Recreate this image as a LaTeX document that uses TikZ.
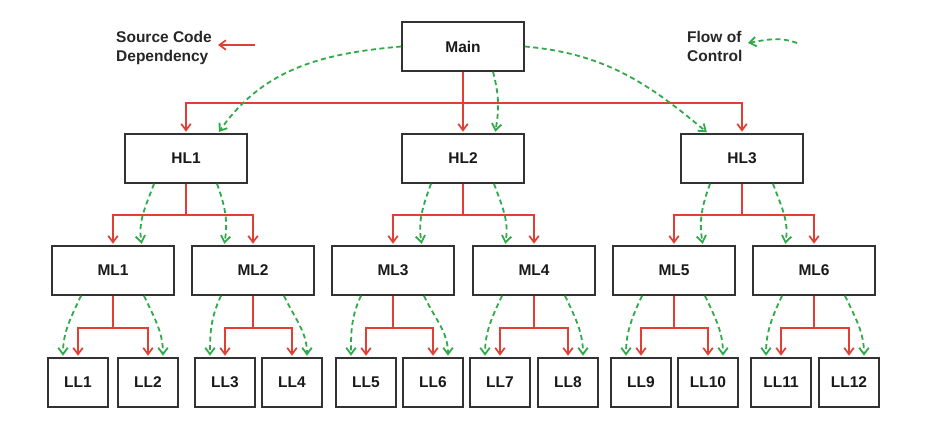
\documentclass[tikz,border=0pt]{standalone}
\usepackage{fontspec}
\setmainfont{Liberation Sans}
\usetikzlibrary{arrows.meta,shadows}
\definecolor{deporange}{RGB}{228,62,52}
\definecolor{flowgreen}{RGB}{48,170,72}
\definecolor{boxedge}{RGB}{50,50,50}

\begin{document}
\begin{tikzpicture}[x=1pt,y=1pt,
  box/.style={draw=boxedge, line width=1.5pt, fill=white, minimum height=49pt,
    inner sep=0pt, font=\fontsize{15.5}{18.5}\selectfont\bfseries, text=black!90,
    general shadow={fill=boxedge, shadow xshift=0.5pt, shadow yshift=-1.2pt}},
  topbox/.style={box, minimum width=122pt},
  midbox/.style={box, minimum width=122pt},
  leafbox/.style={box, minimum width=60pt},
  tip/.style={-{Straight Barb[length=6.5pt,width=9.5pt]}, shorten >=1.5pt},
  dep/.style={draw=deporange, line width=1.7pt, tip},
  flow/.style={draw=flowgreen, line width=1.8pt, dash pattern=on 5pt off 3.5pt, tip},
  legend/.style={align=left, inner sep=0pt, anchor=north west,
    font=\fontsize{15.5}{18.5}\selectfont\bfseries, text=black!85}
]
\useasboundingbox[fill=white] (0,0) rectangle (939,-421);

% modules, top to bottom
\node[topbox] (main) at (463,-46.5) {Main};

\node[topbox] (hl1) at (186,-158.5) {HL1};
\node[topbox] (hl2) at (463,-158.5) {HL2};
\node[topbox] (hl3) at (742,-158.5) {HL3};

\node[midbox] (ml1) at (113,-270.5) {ML1};
\node[midbox] (ml2) at (253,-270.5) {ML2};
\node[midbox] (ml3) at (393,-270.5) {ML3};
\node[midbox] (ml4) at (534,-270.5) {ML4};
\node[midbox] (ml5) at (674,-270.5) {ML5};
\node[midbox] (ml6) at (814,-270.5) {ML6};

\node[leafbox] (ll1)  at (78,-382.5)  {LL1};
\node[leafbox] (ll2)  at (148,-382.5) {LL2};
\node[leafbox] (ll3)  at (225,-382.5) {LL3};
\node[leafbox] (ll4)  at (292,-382.5) {LL4};
\node[leafbox] (ll5)  at (366,-382.5) {LL5};
\node[leafbox] (ll6)  at (433,-382.5) {LL6};
\node[leafbox] (ll7)  at (500,-382.5) {LL7};
\node[leafbox] (ll8)  at (568,-382.5) {LL8};
\node[leafbox] (ll9)  at (641,-382.5) {LL9};
\node[leafbox] (ll10) at (708,-382.5) {LL10};
\node[leafbox] (ll11) at (781,-382.5) {LL11};
\node[leafbox] (ll12) at (849,-382.5) {LL12};

% Main -> high level
\foreach \c in {hl1,hl2,hl3}
  \draw[dep] (main.south) -- ++(0,-31) -| (\c.north);
\draw[flow] (main.west) to[out=185,in=55] ([xshift=32pt]hl1.north);
\draw[flow] ([xshift=30pt]main.south) to[out=-75,in=80] ([xshift=32pt]hl2.north);
\draw[flow] (main.east) to[out=-5,in=140] ([xshift=-34pt]hl3.north);

% high level -> mid level
\foreach \p/\a/\b in {hl1/ml1/ml2, hl2/ml3/ml4, hl3/ml5/ml6} {
  \draw[dep] (\p.south) -- ++(0,-31) -| (\a.north);
  \draw[dep] (\p.south) -- ++(0,-31) -| (\b.north);
  \draw[flow] ([xshift=-32pt]\p.south) to[out=-110,in=100] ([xshift=29pt]\a.north);
  \draw[flow] ([xshift=31pt]\p.south) to[out=-70,in=80] ([xshift=-29pt]\b.north);
}

% mid level -> low level
\foreach \p/\a/\b in {ml1/ll1/ll2, ml2/ll3/ll4, ml3/ll5/ll6,
                      ml4/ll7/ll8, ml5/ll9/ll10, ml6/ll11/ll12} {
  \draw[dep] (\p.south) -- ++(0,-32) -| (\a.north);
  \draw[dep] (\p.south) -- ++(0,-32) -| (\b.north);
  \draw[flow] ([xshift=-32pt]\p.south) to[out=-115,in=90] ([xshift=-15pt]\a.north);
  \draw[flow] ([xshift=31pt]\p.south) to[out=-65,in=90] ([xshift=15pt]\b.north);
}

% legend
\node[legend] (srclbl) at (116,-31.5) {Source Code\\Dependency};
\coordinate (srcfrom) at (255,-45);
\coordinate (srcto) at (218,-45);
\draw[dep, shorten >=0pt] (srcfrom) -- (srcto);

\node[legend] (flowlbl) at (687,-31.5) {Flow of\\Control};
\coordinate (flowfrom) at (797,-43);
\coordinate (flowto) at (748,-43);
\draw[flow, shorten >=0pt] (flowfrom) to[out=160,in=10] (flowto);
\end{tikzpicture}
\end{document}
